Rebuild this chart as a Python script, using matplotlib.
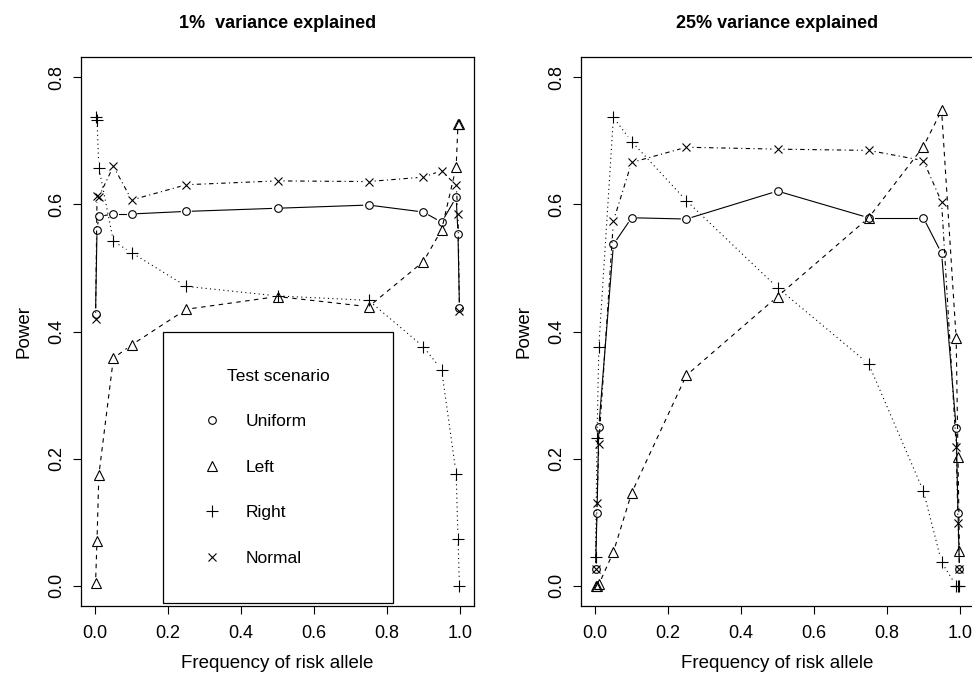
import numpy as np
import matplotlib
matplotlib.use("Agg")
import matplotlib.pyplot as plt
from matplotlib.lines import Line2D

plt.rcParams['font.family'] = ['Liberation Sans', 'DejaVu Sans']

# allele frequencies used in the simulation
freq = [0.001, 0.005, 0.01, 0.05, 0.1, 0.25, 0.5, 0.75, 0.9, 0.95, 0.99, 0.995, 0.999]

titles = ["1%  variance explained", "25% variance explained"]
scenarios = ["Uniform", "Left", "Right", "Normal"]

# power, 1% variance explained
uniform_1 = [0.428, 0.560, 0.581, 0.585, 0.585, 0.589, 0.594, 0.599, 0.588, 0.572, 0.611, 0.554, 0.437]
left_1 = [0.004, 0.071, 0.174, 0.358, 0.379, 0.435, 0.455, 0.439, 0.510, 0.560, 0.659, 0.727, 0.727]
right_1 = [0.738, 0.733, 0.658, 0.542, 0.524, 0.471, 0.456, 0.449, 0.376, 0.340, 0.176, 0.074, 0.000]
normal_1 = [0.420, 0.613, 0.612, 0.660, 0.607, 0.631, 0.637, 0.636, 0.643, 0.653, 0.630, 0.585, 0.432]

# power, 25% variance explained
uniform_25 = [0.027, 0.115, 0.250, 0.537, 0.579, 0.577, 0.621, 0.579, 0.579, 0.523, 0.248, 0.115, 0.027]
left_25 = [0.000, 0.000, 0.002, 0.053, 0.146, 0.331, 0.455, 0.579, 0.691, 0.748, 0.389, 0.202, 0.055]
right_25 = [0.045, 0.232, 0.376, 0.737, 0.699, 0.606, 0.469, 0.349, 0.149, 0.037, 0.000, 0.000, 0.000]
normal_25 = [0.027, 0.130, 0.223, 0.574, 0.666, 0.690, 0.687, 0.685, 0.669, 0.604, 0.219, 0.098, 0.027]

panels = [
    [uniform_1, left_1, right_1, normal_1],
    [uniform_25, left_25, right_25, normal_25],
]

markers = ['o', '^', '+', 'x']
msizes = [5.5, 6.5, 8, 6]
styles = ['-', (0, (4, 4)), (0, (1, 3)), (0, (1, 3, 4, 3))]

W, H = 972, 673
fig = plt.figure(figsize=(W / 100, H / 100), dpi=100)

# axes boxes in pixels: left, top, right, bottom
boxes = [(81, 57, 474, 606), (581, 57, 974, 606)]


def draw_b(ax, x, y, marker, ms, ls, gap=6.0):
    """Like R's type='b': points, with line segments stopping short of them."""
    tr = ax.transData
    inv = tr.inverted()
    pts = tr.transform(np.column_stack([x, y]))
    for p0, p1 in zip(pts[:-1], pts[1:]):
        d = p1 - p0
        L = np.hypot(d[0], d[1])
        if L <= 2 * gap:
            continue
        u = d / L
        seg = inv.transform(np.array([p0 + u * gap, p1 - u * gap]))
        ax.plot(seg[:, 0], seg[:, 1], color='black', lw=0.8, linestyle=ls)
    ax.plot(x, y, linestyle='none', marker=marker, ms=ms, mfc='none',
            mec='black', mew=0.8)


for i, (series, title) in enumerate(zip(panels, titles)):
    l, t, r, b = boxes[i]
    ax = fig.add_axes([l / W, 1 - b / H, (r - l) / W, (b - t) / H])
    ax.set_xlim(-0.0389, 1.0389)
    ax.set_ylim(-0.032, 0.832)

    for vals, m, ms, ls in zip(series, markers, msizes, styles):
        draw_b(ax, freq, vals, m, ms, ls)

    ax.set_xticks([0, 0.2, 0.4, 0.6, 0.8, 1.0])
    ax.set_xticklabels(["0.0", "0.2", "0.4", "0.6", "0.8", "1.0"])
    ax.set_yticks([0, 0.2, 0.4, 0.6, 0.8])
    ax.set_yticklabels(["0.0", "0.2", "0.4", "0.6", "0.8"], rotation=90, va='center')
    ax.tick_params(direction='out', length=6, width=0.8, labelsize=13)
    ax.tick_params(axis='x', pad=8)
    ax.tick_params(axis='y', pad=5)
    for s in ax.spines.values():
        s.set_linewidth(0.9)

    ax.set_xlabel("Frequency of risk allele", fontsize=13.5, labelpad=9)
    ax.set_ylabel("Power", fontsize=13.5, labelpad=12)
    ax.set_title(title, fontsize=13, fontweight='bold', pad=21)

    if i == 0:
        handles = [Line2D([], [], linestyle='none', marker=m, ms=ms, mfc='none',
                          mec='black', mew=0.8)
                   for m, ms in zip(markers, msizes)]
        ax.legend(handles, scenarios, title="Test scenario",
                  loc='upper left', bbox_to_anchor=(0.187, -0.032, 0.629, 0.432),
                  bbox_transform=ax.transData, mode='expand', borderaxespad=0,
                  fontsize=12.5, title_fontsize=12.5, frameon=True, fancybox=False,
                  edgecolor='black', framealpha=1, borderpad=2.15,
                  labelspacing=1.75, handlelength=1.3, handletextpad=1.3,
                  alignment='center').get_frame().set_linewidth(0.9)

fig.savefig("out.png", dpi=100)
